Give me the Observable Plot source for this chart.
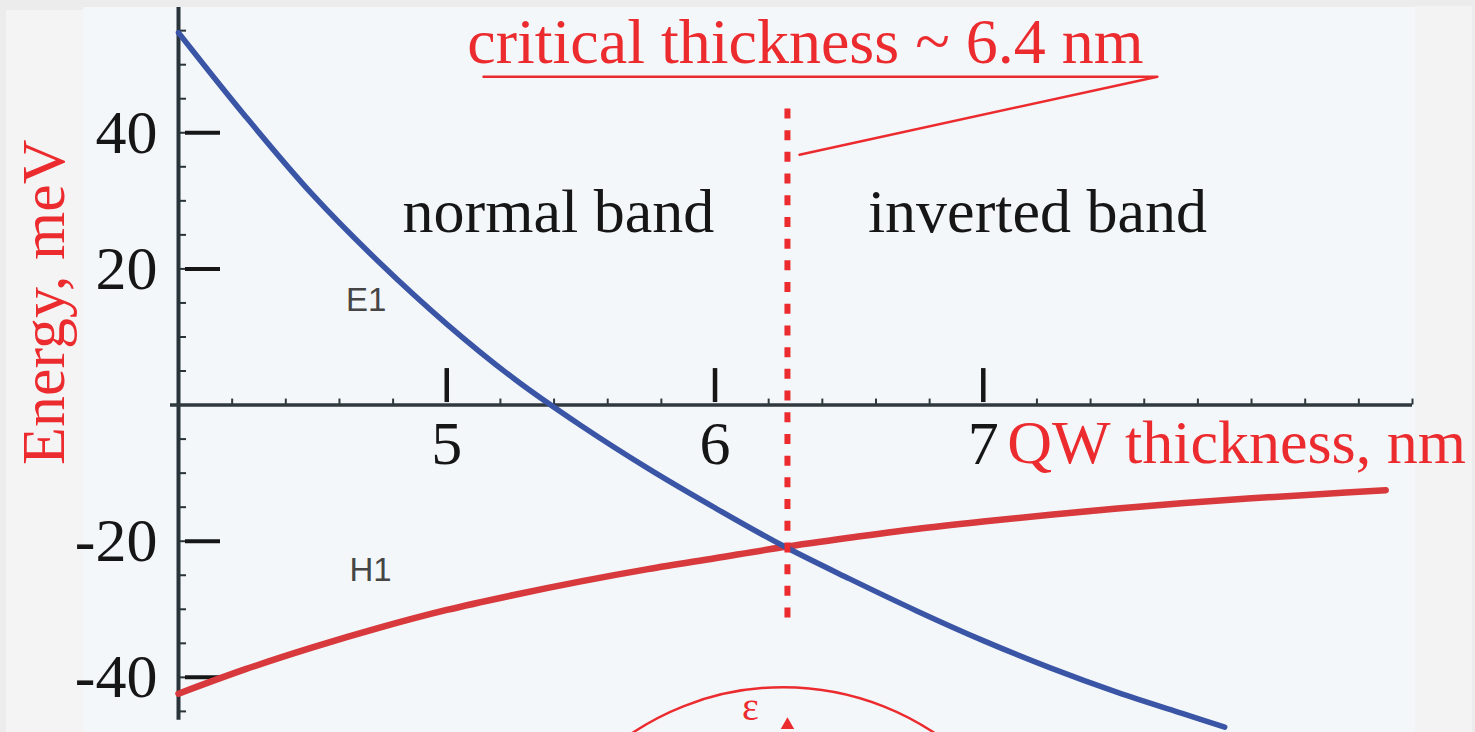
<!DOCTYPE html>
<html>
<head>
<meta charset="utf-8">
<script src="https://cdn.jsdelivr.net/npm/d3@7"></script>
<script src="https://cdn.jsdelivr.net/npm/@observablehq/plot@0.6"></script>
<style>
  html, body { margin: 0; padding: 0; background: #ececec; overflow: hidden; }
  #stage { position: relative; width: 1475px; height: 732px; overflow: hidden; }
  .panel { position: absolute; }
  #chart { position: absolute; left: 0; top: 0; }
</style>
</head>
<body>
<div id="stage">
  <div class="panel" style="left:6px;top:10px;width:77px;height:722px;background:#f4f4f4"></div>
  <div class="panel" style="left:83px;top:7px;width:1332px;height:725px;background:#f3f7fa"></div>
  <div class="panel" style="left:1415px;top:6px;width:57px;height:726px;background:#f3f3f3"></div>
  <div id="chart"></div>
</div>
<script>
// E1 (electron) subband edge vs quantum-well thickness, meV
const thicknessE1 = [4.0, 4.25, 4.5, 4.75, 5.0, 5.25, 5.5, 5.75, 6.0, 6.25, 6.5, 6.75, 7.0, 7.25, 7.5, 7.75, 7.9];
const energyE1    = [54.7, 42.4, 30.9, 20.9, 11.9, 3.9, -3.0, -9.3, -15.1, -20.6, -25.5, -30.2, -34.6, -38.6, -42.2, -45.4, -47.3];

// H1 (heavy-hole) subband edge vs quantum-well thickness, meV
const thicknessH1 = [4.0, 4.25, 4.5, 4.75, 5.0, 5.25, 5.5, 5.75, 6.0, 6.25, 6.5, 6.75, 7.0, 7.25, 7.5, 7.75, 8.0, 8.25, 8.5];
const energyH1    = [-42.4, -38.8, -35.6, -32.7, -30.1, -27.9, -25.9, -24.1, -22.5, -20.9, -19.5, -18.2, -17.1, -16.1, -15.2, -14.4, -13.7, -13.1, -12.5];

// axis ticks
const xTickValues = [5, 6, 7];
const yTickValues = [40, 20, -20, -40];
const xMinorTicks = [4.2, 4.4, 4.6, 4.8, 5.2, 5.4, 5.6, 5.8, 6.2, 6.4, 6.6, 6.8, 7.2, 7.4, 7.6, 7.8, 8.0, 8.2, 8.4, 8.6];
const yMinorTicks = [-45, -40, -35, -30, -25, -20, -15, -10, -5, 5, 10, 15, 20, 25, 30, 35, 40, 45, 50, 55];

// band-inversion point (where E1 crosses H1)
const criticalThickness = [6.27];

// texts
const titleText = ["critical thickness ~ 6.4 nm"];
const regionLabels = ["normal band", "inverted band"];
const curveLabels = ["E1", "H1"];
const xAxisTitle = ["QW thickness, nm"];
const yAxisTitle = ["Energy, meV"];
const insetSymbol = ["ε"];

const e1 = thicknessE1.map((t, i) => ({t, e: energyE1[i]}));
const h1 = thicknessH1.map((t, i) => ({t, e: energyH1[i]}));

const red = "#ec2b2f";
const ink = "#161616";
const axisInk = "#28333a";
const serif = "'Liberation Serif', 'Times New Roman', serif";
const sans = "'Liberation Sans', Arial, sans-serif";
const pxX = 1 / 268.3; // one pixel in nm
const pxY = 1 / 6.81;  // one pixel in meV

const chart = Plot.plot({
  width: 1475,
  height: 732,
  marginLeft: 178,
  marginRight: 63,
  marginTop: 7,
  marginBottom: 0,
  x: {domain: [4, 8.6], axis: null},
  y: {domain: [-48.1, 58.4], axis: null},
  style: {background: "transparent", fontFamily: serif, overflow: "hidden"},
  marks: [
    // vertical energy axis with minor ticks
    Plot.ruleX([4], {y1: 58.4, y2: -46.3, stroke: axisInk, strokeWidth: 4}),
    Plot.ruleY(yMinorTicks, {x1: 4, x2: 4 + 8 * pxX, stroke: axisInk, strokeWidth: 2}),
    // horizontal thickness axis at E = 0 with minor ticks
    Plot.ruleY([0], {x1: 4 - 8 * pxX, x2: 8.6, stroke: "#2f393e", strokeWidth: 3.5}),
    Plot.ruleX(xMinorTicks, {y1: 0, y2: 6 * pxY, stroke: "#2f393e", strokeWidth: 2}),
    // major ticks
    Plot.ruleY(yTickValues, {x1: 4 + 7 * pxX, x2: 4 + 42 * pxX, stroke: ink, strokeWidth: 4}),
    Plot.ruleX(xTickValues, {y1: 2.5 * pxY, y2: 36.5 * pxY, stroke: ink, strokeWidth: 4.5}),
    // tick labels
    Plot.text(yTickValues, {x: 4, y: d => d, text: d => String(d), textAnchor: "end", dx: -21, fontSize: 62, fill: ink}),
    Plot.text(xTickValues, {x: d => d, y: 0, text: d => String(d), dy: 39, fontSize: 62, fill: ink}),
    // axis titles
    Plot.text(xAxisTitle, {x: 7, y: 0, text: d => d, textAnchor: "start", dx: 24, dy: 38, fontSize: 62, fill: red}),
    Plot.text(yAxisTitle, {x: 3.5, y: 15.1, text: d => d, rotate: -90, fontSize: 62, fill: red}),
    // subband curves
    Plot.line(h1, {x: "t", y: "e", stroke: "#d8393c", strokeWidth: 6.5, curve: "catmull-rom"}),
    Plot.line(e1, {x: "t", y: "e", stroke: "#3a55a5", strokeWidth: 5.5, curve: "catmull-rom"}),
    Plot.text(curveLabels, {x: [4.70, 4.716], y: [15.4, -24.3], text: d => d, fontFamily: sans, fontSize: 33, fill: "#454545"}),
    // critical thickness marker
    Plot.ruleX(criticalThickness, {y1: 43.5, y2: -32.8, stroke: red, strokeWidth: 6, strokeDasharray: "10,11.7"}),
    Plot.text(titleText, {x: 6.337, y: 53.2, text: d => d, fontSize: 64, fill: red}),
    Plot.line([[5.137, 48.24], [7.649, 48.24], [6.315, 36.78]], {stroke: red, strokeWidth: 2.5}),
    Plot.text(regionLabels, {x: [5.416, 7.202], y: [28.3, 28.3], text: d => d, fontSize: 62, fill: ink}),
    // start of the dispersion inset below
    Plot.dot([0], {x: 6.255, y: -81.4, r: 272, stroke: red, strokeWidth: 2.5, fill: "none"}),
    Plot.text(insetSymbol, {x: 6.132, y: -44.45, text: d => d, fontSize: 40, fill: red}),
    Plot.dot([0], {x: 6.27, y: -47.0, r: 5, symbol: "triangle", fill: red, stroke: "none"})
  ]
});

document.getElementById("chart").appendChild(chart);
</script>
</body>
</html>
